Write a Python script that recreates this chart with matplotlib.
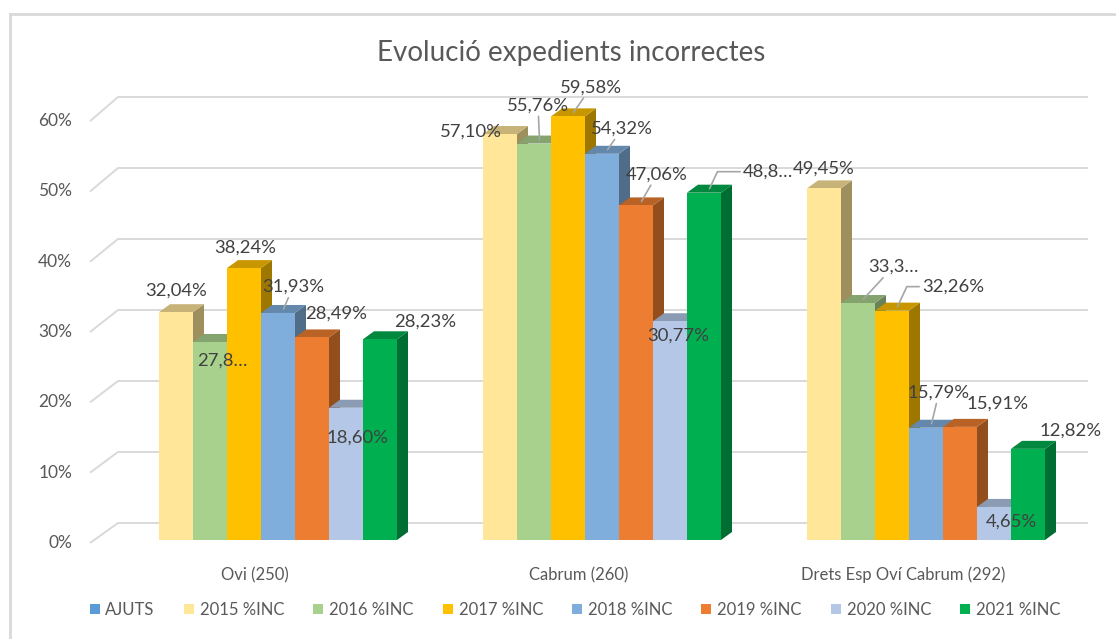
import matplotlib
matplotlib.use("Agg")
import matplotlib.pyplot as plt
import matplotlib.colors as mcolors
from matplotlib.patches import Polygon, Patch
from matplotlib.lines import Line2D

# ---------------- data ----------------
categories = ["Ovi (250)", "Cabrum (260)", "Drets Esp Oví Cabrum (292)"]
series = ["2015 %INC", "2016 %INC", "2017 %INC", "2018 %INC",
          "2019 %INC", "2020 %INC", "2021 %INC"]
legend_extra = "AJUTS"

values_ovi = [32.04, 27.85, 38.24, 31.93, 28.49, 18.60, 28.23]
values_cabrum = [57.10, 55.76, 59.58, 54.32, 47.06, 30.77, 48.85]
values_drets = [49.45, 33.33, 32.26, 15.79, 15.91, 4.65, 12.82]

labels_ovi = ["32,04%", "27,8…", "38,24%", "31,93%", "28,49%", "18,60%", "28,23%"]
labels_cabrum = ["57,10%", "55,76%", "59,58%", "54,32%", "47,06%", "30,77%", "48,8…"]
labels_drets = ["49,45%", "33,3…", "32,26%", "15,79%", "15,91%", "4,65%", "12,82%"]

yticks = [0, 10, 20, 30, 40, 50, 60]
ytick_labels = ["0%", "10%", "20%", "30%", "40%", "50%", "60%"]

# ---------------- styles / positions ----------------
colors = ["#FFE699", "#A9D18E", "#FFC000", "#7FAEDC", "#ED7D31", "#B4C7E7", "#00B050"]
ajuts_color = "#5B9BD5"

# label offsets in pixels relative to front-top centre of the bar (y up)
offsets_ovi = [(0, 22), (12, -19), (1, 20), (15, 26), (24, 24), (12, -30), (45, 18)]
offsets_cabrum = [(-29, 2), (4, 38), (23, 29), (20, 25), (21, 31), (8, -14), (64, 21)]
offsets_drets = [(0, 20), (35, 36), (61, 24), (13, 35), (38, 23), (17, -15), (43, 18)]
# leader: None = no leader, "s" = straight, "e" = elbow
leaders_ovi = [None, None, None, "s", None, None, None]
leaders_cabrum = [None, "s", "s", "s", "s", None, "e"]
leaders_drets = [None, "s", "e", "s", None, None, None]

W, H = 1116, 639
X0_PX, Y0_PX = 278, 540       # pixel of data (0, 0)
PX_X, PX_Y = 34.0, 7.11       # pixels per data unit
GROUP_STEP = 324 / PX_X
DDX, DDY = 11 / PX_X, 8 / PX_Y  # bar depth offset

plt.rcParams["font.family"] = ["Lato", "DejaVu Sans"]

fig = plt.figure(figsize=(W / 100, H / 100), dpi=100)
fig.patch.set_facecolor("white")

ax_l, ax_r, ax_t, ax_b = 86, 1096, 60, 560
ax = fig.add_axes([ax_l / W, (H - ax_b) / H, (ax_r - ax_l) / W, (ax_b - ax_t) / H])
ax.set_xlim((ax_l - X0_PX) / PX_X, (ax_r - X0_PX) / PX_X)
ax.set_ylim((Y0_PX - ax_b) / PX_Y, (Y0_PX - ax_t) / PX_Y)
ax.axis("off")


def px2x(px):
    return (px - X0_PX) / PX_X


def py2y(py):
    return (Y0_PX - py) / PX_Y


# ---------------- gridlines (3D walls) ----------------
grid_c = "#D9D9D9"
for v, lab in zip(yticks, ytick_labels):
    y_front = py2y(543 - 7.03 * v)
    y_back = py2y(523 - 7.10 * v)
    ax.plot([px2x(90), px2x(118), px2x(1088)], [y_front, y_back, y_back],
            color=grid_c, lw=1.4, zorder=0, solid_capstyle="butt")
    ax.text(px2x(72), y_front, lab, ha="right", va="center",
            fontsize=12.5, color="#595959")


def shade(c, f):
    r, g, b = mcolors.to_rgb(c)
    return (r * f, g * f, b * f)


groups = [
    (values_ovi, labels_ovi, offsets_ovi, leaders_ovi),
    (values_cabrum, labels_cabrum, offsets_cabrum, leaders_cabrum),
    (values_drets, labels_drets, offsets_drets, leaders_drets),
]

z = 2
for gi, (vals, labs, offs, leads) in enumerate(groups):
    center = gi * GROUP_STEP
    for j, (v, col) in enumerate(zip(vals, colors)):
        left = center + (j - 3.5)
        right = left + 1
        side = Polygon([(right, 0), (right + DDX, DDY), (right + DDX, v + DDY), (right, v)],
                       closed=True, facecolor=shade(col, 0.62), edgecolor="none", zorder=z)
        top = Polygon([(left, v), (left + DDX, v + DDY), (right + DDX, v + DDY), (right, v)],
                      closed=True, facecolor=shade(col, 0.78), edgecolor="none", zorder=z)
        ax.add_patch(side)
        ax.add_patch(top)
        ax.bar(left, v, width=1, align="edge", color=col, edgecolor="none", zorder=z + 0.5)
        z += 1
    ax.text(center - 23 / PX_X, py2y(575), categories[gi], ha="center", va="center",
            fontsize=12, color="#595959", clip_on=False)

# data labels drawn on top
for gi, (vals, labs, offs, leads) in enumerate(groups):
    center = gi * GROUP_STEP
    for j, (v, lab, (dx, dy), ld) in enumerate(zip(vals, labs, offs, leads)):
        xc = center + (j - 3.5) + 0.5
        kw = dict(ha="center", va="center", fontsize=13.3, color="#404040",
                  textcoords="offset pixels", zorder=100, annotation_clip=False)
        if ld is None:
            ax.annotate(lab, xy=(xc, v), xytext=(dx, dy), **kw)
        else:
            xy = (xc + DDX / 2, v + DDY / 2)
            if ld == "s":
                ap = dict(arrowstyle="-", color="#A6A6A6", lw=1.2, shrinkA=0, shrinkB=0)
            else:
                ap = dict(arrowstyle="-", color="#A6A6A6", lw=1.2, shrinkA=0, shrinkB=0,
                          relpos=(0, 0.5), connectionstyle="angle,angleA=0,angleB=65,rad=0")
            ax.annotate(lab, xy=xy, xytext=(dx - 5.5, dy - 4), arrowprops=ap, **kw)

# ---------------- title ----------------
fig.text(571 / W, 1 - 53 / H, "Evolució expedients incorrectes", ha="center", va="center",
         fontsize=20, color="#595959")

# ---------------- legend ----------------
handles = [Patch(facecolor=ajuts_color, edgecolor="none", label=legend_extra)]
handles += [Patch(facecolor=c, edgecolor="none", label=s) for c, s in zip(colors, series)]
fig.legend(handles=handles, loc="center", bbox_to_anchor=(575 / W, 1 - 610 / H),
           ncol=8, frameon=False, fontsize=12, handlelength=0.6, handleheight=0.6,
           handletextpad=0.35, columnspacing=1.75, labelcolor="#595959")

# ---------------- chart border ----------------
bc = "#D9D9D9"
fig.add_artist(Line2D([10 / W, 1.0], [1 - 14 / H, 1 - 14 / H], transform=fig.transFigure,
                      color=bc, lw=2))
fig.add_artist(Line2D([10 / W, 10 / W], [0, 1 - 14 / H], transform=fig.transFigure,
                      color=bc, lw=2))

fig.savefig("out.png", dpi=100)
